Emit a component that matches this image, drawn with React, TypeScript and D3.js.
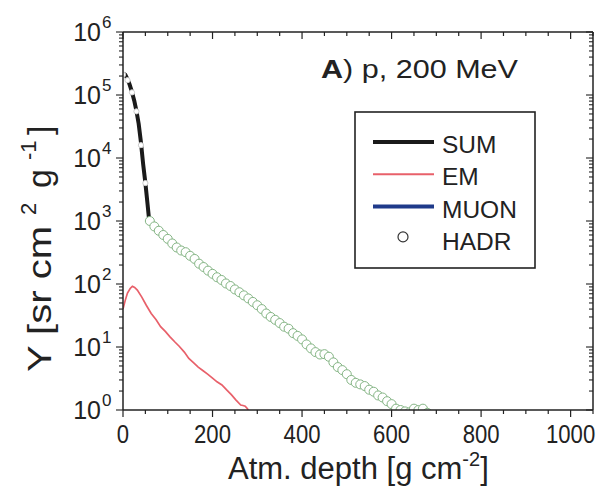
import React from "react";
import * as d3 from "d3";

const xTickValues = [0, 200, 400, 600, 800, 1000];
const yDecades = [0, 1, 2, 3, 4, 5, 6];

const hadrDepth = [0, 10, 20, 30, 40, 50, 60, 70, 80, 90, 100, 110, 120, 130, 140, 150, 160, 170, 180, 190, 200, 210, 220, 230, 240, 250, 260, 270, 280, 290, 300, 310, 320, 330, 340, 350, 360, 370, 380, 390, 400, 410, 420, 430, 440, 450, 460, 470, 480, 490, 500, 510, 520, 530, 540, 550, 560, 570, 580, 590, 600, 610, 620, 630, 640, 650, 660, 670, 680];
const hadrValue = [2.1e5, 1.72e5, 1.1e5, 5.5e4, 1.6e4, 4e3, 1000, 820, 700, 600, 520, 440, 380, 340, 320, 280, 250, 210, 186, 163, 145, 128, 116, 102, 93, 82, 74, 66, 59, 52, 46, 40, 34, 30, 27, 24, 21, 19.5, 16.6, 15, 13.2, 11, 9.5, 8.3, 7.6, 7.7, 7.0, 5.7, 4.8, 4.3, 3.7, 3.0, 2.7, 2.55, 2.4, 2.1, 1.95, 1.7, 1.58, 1.38, 1.24, 1.05, 1.0, 0.95, 0.92, 1.05, 1.0, 1.05, 0.9];

const sumDepth = [0, 5, 10, 15, 20, 25, 30, 35, 40, 45, 50, 55, 58, 60, 70, 80, 90, 100, 110, 120, 130, 140, 150, 160, 170, 180, 190, 200, 210, 220, 230, 240, 250, 260, 270, 280, 290, 300, 310, 320, 330, 340, 350, 360, 370, 380, 390, 400, 410, 420, 430, 440, 450, 460, 470, 480, 490, 500, 510, 520, 530, 540, 550, 560, 570, 580, 590, 600, 610, 620, 630, 640, 650];
const sumValue = [2.2e5, 2.1e5, 1.78e5, 1.45e5, 1.12e5, 8.2e4, 5.6e4, 3.5e4, 1.8e4, 8e3, 4e3, 1.8e3, 1.1e3, 1010, 830, 705, 610, 525, 445, 385, 345, 322, 284, 252, 214, 188, 166, 147, 130, 117, 104, 94, 83, 75, 67, 59, 53, 46, 40.5, 34.5, 30.5, 27, 24.5, 21, 19.8, 16.4, 15.2, 12.8, 11.2, 9.2, 8.6, 7.3, 7.9, 6.6, 5.9, 4.6, 4.4, 3.5, 3.1, 2.6, 2.6, 2.2, 2.15, 1.85, 1.75, 1.5, 1.4, 1.2, 1.1, 0.95, 0.9, 0.85, 0.8];

const emDepth = [0, 5, 10, 16, 21, 26, 32, 42, 52, 63, 74, 84, 95, 105, 116, 126, 137, 147, 158, 168, 179, 189, 200, 210, 221, 231, 242, 252, 263, 268, 273, 278, 284];
const emValue = [40, 55, 72, 85, 92, 88, 80, 62, 46, 34, 27, 21, 17.5, 14.5, 12, 10.2, 8.3, 6.6, 5.6, 4.8, 4.2, 3.7, 3.2, 2.8, 2.5, 2.1, 1.75, 1.45, 1.2, 1.18, 1.15, 1.05, 0.85];

const legendItems = ["SUM", "EM", "MUON", "HADR"];
const legendColors = ["#1a1a1a", "#e8606a", "#1f3a8a", "#333333"];

const W = 604;
const H = 494;
const L = 123;
const R = 593;
const T = 32;
const B = 410;
const FONT = "'Liberation Sans', Arial, Helvetica, sans-serif";

export default function App() {
  const x = d3.scaleLinear().domain([0, 1050]).range([L, R]);
  const y = d3.scaleLog().domain([1, 1e6]).range([B, T]);

  const line = d3
    .line<[number, number]>()
    .x((d) => x(d[0]))
    .y((d) => y(d[1]));

  const sumPts: [number, number][] = sumDepth.map((d, i) => [d, sumValue[i]]);
  const emPts: [number, number][] = emDepth.map((d, i) => [d, emValue[i]]);

  const xMinor = d3.range(0, 1051, 50);
  const yMinor: number[] = [];
  for (let e = 0; e < 6; e++) {
    for (let m = 2; m <= 9; m++) yMinor.push(m * Math.pow(10, e));
  }

  const axisColor = "#222";

  return (
    <svg
      width={W}
      height={H}
      style={{ position: "absolute", left: 0, top: 0, background: "#fff" }}
      fontFamily={FONT}
    >
      <defs>
        <clipPath id="plot">
          <rect x={L} y={T} width={R - L} height={B - T} />
        </clipPath>
      </defs>
      <rect width={W} height={H} fill="#fff" />

      {/* data */}
      <g clipPath="url(#plot)">
        <path d={line(emPts) || ""} fill="none" stroke="#e8606a" strokeWidth={1.7} />
        <path d={line(sumPts) || ""} fill="none" stroke="#1a1a1a" strokeWidth={4} strokeLinejoin="round" />
        {hadrDepth.map((d, i) => (
          <circle
            key={i}
            cx={x(d)}
            cy={y(hadrValue[i])}
            r={d < 60 ? 2.6 : 4.5}
            fill="#fff"
            stroke={d < 60 ? "#cccccc" : "#85b585"}
            strokeWidth={1}
          />
        ))}
      </g>

      {/* axes frame */}
      <g stroke={axisColor} strokeWidth={1.5} fill="none">
        <line x1={L} y1={B} x2={R} y2={B} />
        <line x1={L} y1={T} x2={R} y2={T} />
        <line x1={L} y1={T} x2={L} y2={B} />
        <line x1={R} y1={T} x2={R} y2={B} />
      </g>

      {/* x ticks */}
      <g stroke={axisColor} strokeWidth={1.2}>
        {xMinor.map((v) => {
          const major = v % 200 === 0;
          const len = major ? 7 : 4;
          return (
            <g key={v}>
              <line x1={x(v)} x2={x(v)} y1={B} y2={B + len} />
              <line x1={x(v)} x2={x(v)} y1={T} y2={T + len} />
            </g>
          );
        })}
      </g>
      {/* y ticks */}
      <g stroke={axisColor} strokeWidth={1.1}>
        {yDecades.map((e) => (
          <g key={"M" + e}>
            <line x1={L - 7} x2={L} y1={y(Math.pow(10, e))} y2={y(Math.pow(10, e))} />
            <line x1={R - 7} x2={R} y1={y(Math.pow(10, e))} y2={y(Math.pow(10, e))} />
          </g>
        ))}
        {yMinor.map((v, i) => (
          <g key={"m" + i}>
            <line x1={L - 4} x2={L} y1={y(v)} y2={y(v)} />
            <line x1={R - 4} x2={R} y1={y(v)} y2={y(v)} />
          </g>
        ))}
      </g>

      {/* x tick labels */}
      <g fontSize={25} fill="#222" textAnchor="middle">
        {xTickValues.map((v) => (
          <text
            key={v}
            x={x(v)}
            y={443}
            textLength={String(v).length * 12.3}
            lengthAdjust="spacingAndGlyphs"
          >
            {v}
          </text>
        ))}
      </g>
      {/* y tick labels */}
      <g fill="#222">
        {yDecades.map((e) => {
          const yy = y(Math.pow(10, e));
          return (
            <g key={e}>
              <text x={101} y={yy + 9} fontSize={25} textAnchor="end">
                10
              </text>
              <text x={102} y={yy - 4} fontSize={17}>
                {e}
              </text>
            </g>
          );
        })}
      </g>

      {/* axis titles */}
      <text x={228} y={479} fontSize={31} fill="#222">
        Atm. depth [g cm
        <tspan fontSize={20} dy={-13}>-2</tspan>
        <tspan dy={13}>]</tspan>
      </text>
      <g transform="translate(51,372) rotate(-90)" fill="#222" fontSize={34}>
        <text x={0} y={0} textLength={146} lengthAdjust="spacingAndGlyphs">Y [sr cm</text>
        <text x={157} y={-15} fontSize={22}>2</text>
        <text x={184} y={0}>g</text>
        <text x={212} y={-15} fontSize={22}>-1</text>
        <text x={237} y={0}>]</text>
      </g>

      {/* title */}
      <text x={321} y={78} fontSize={26} fill="#222" textLength={197} lengthAdjust="spacingAndGlyphs">
        <tspan fontWeight="bold">A</tspan>) p, 200 MeV
      </text>

      {/* legend */}
      <rect x={355} y={112} width={180} height={156} fill="#fff" stroke="#222" strokeWidth={1.6} />
      {legendItems.map((name, i) => {
        const ly = 142 + i * 32.3;
        return (
          <g key={name}>
            {name === "HADR" ? (
              <circle cx={403} cy={ly - 2} r={5} fill="#fff" stroke={legendColors[i]} strokeWidth={1.2} />
            ) : (
              <line
                x1={373}
                x2={434}
                y1={ly}
                y2={ly}
                stroke={legendColors[i]}
                strokeWidth={name === "EM" ? 2 : 4}
              />
            )}
            <text x={442} y={ly + 11} fontSize={24.5} fill="#222">
              {name}
            </text>
          </g>
        );
      })}
    </svg>
  );
}
